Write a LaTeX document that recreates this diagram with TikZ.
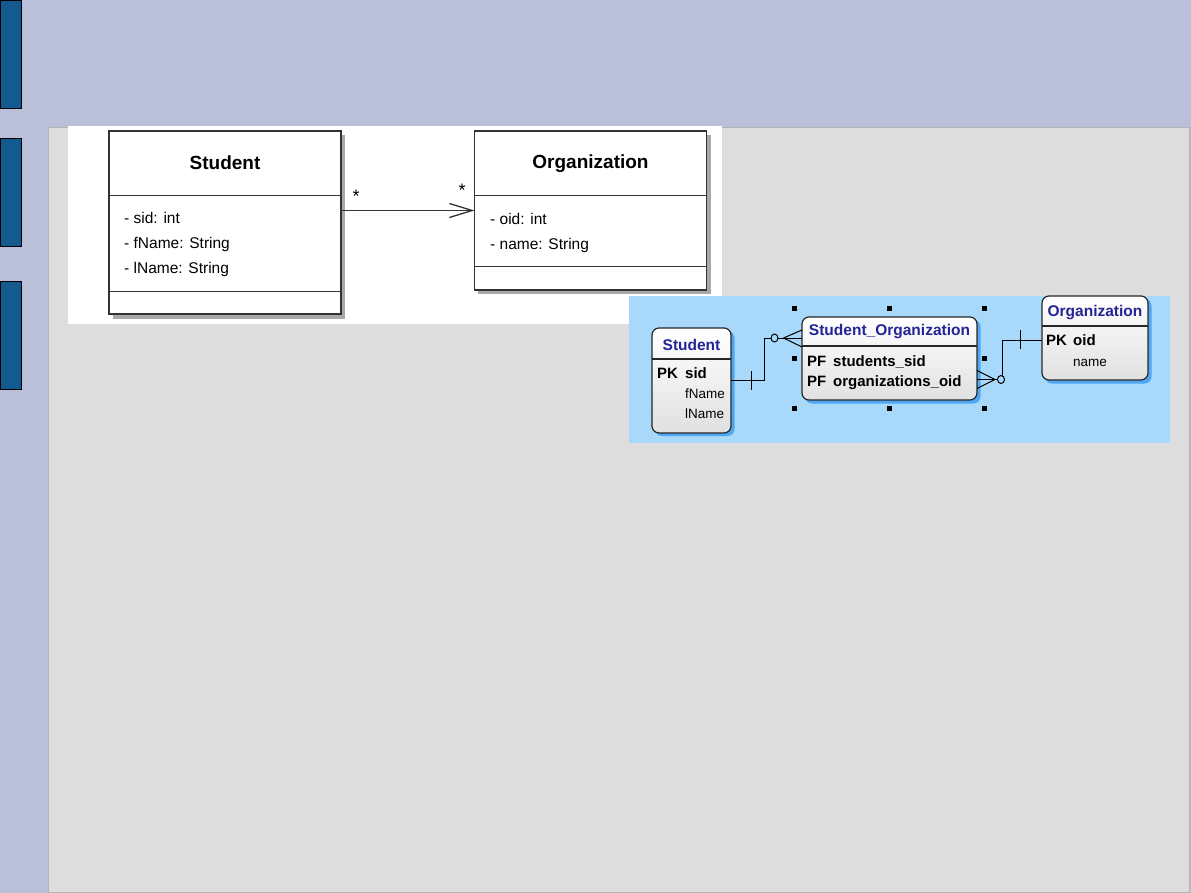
\documentclass[tikz,border=0pt]{standalone}
\usepackage{fontspec}
\setmainfont{Liberation Sans}
\usetikzlibrary{arrows.meta}
\definecolor{bgl}{HTML}{BBC0DA}
\definecolor{panelgray}{HTML}{DDDDDD}
\definecolor{panelborder}{HTML}{B4B4B4}
\definecolor{tabblue}{HTML}{135A8E}
\definecolor{erpanel}{HTML}{A8D9FB}
\definecolor{ershadow}{HTML}{4FA6F2}
\definecolor{ertitle}{RGB}{36,36,150}
\definecolor{umlline}{HTML}{333333}
\definecolor{umlshadow}{HTML}{A8A8A8}
\tikzset{
  tabbox/.style={fill=tabblue, draw=black, line width=0.9pt},
  umlbox/.style={draw=umlline, fill=white, line width=1.3pt, rectangle, inner sep=0pt, outer sep=0pt},
  umltitle/.style={font=\fontsize{19}{21}\selectfont\bfseries, inner sep=0pt},
  umlattr/.style={font=\fontsize{15.5}{17}\selectfont, inner sep=0pt, anchor=west, text height=11.5pt, text depth=3.5pt},
  erbox/.style={draw=black!85, line width=1.2pt, rectangle, rounded corners=7pt, top color=white, bottom color=black!12, inner sep=0pt, outer sep=0pt},
  ershadowbox/.style={fill=ershadow, rounded corners=7pt},
  ertitlestyle/.style={font=\fontsize{15.5}{17}\selectfont\bfseries, text=ertitle, inner sep=0pt},
  erkey/.style={font=\fontsize{15}{16}\selectfont\bfseries, inner sep=0pt, anchor=west, text height=11pt, text depth=3.5pt},
  erplain/.style={font=\fontsize{13.5}{15}\selectfont, inner sep=0pt, anchor=west, text height=10pt, text depth=3pt},
  handle/.style={fill=black, rectangle, minimum size=5pt, inner sep=0pt},
  erline/.style={draw=black, line width=1pt},
  mult/.style={font=\fontsize{18}{20}\selectfont, inner sep=0pt}
}
\begin{document}
\begin{tikzpicture}[x=1pt,y=-1pt]
\useasboundingbox (0,0) rectangle (1191,893);
\fill[bgl] (0,0) rectangle (1191,893);
\filldraw[fill=panelgray, draw=panelborder, line width=1pt] (48.5,127.5) rectangle (1189,892);
% side tabs
\path[tabbox] (0.5,0.5) rectangle (21.5,108);
\path[tabbox] (0.5,138.5) rectangle (21.5,246);
\path[tabbox] (0.5,281.5) rectangle (21.5,389);
% white image area
\fill[white] (68,126) rectangle (722,324);
% UML Student
\fill[umlshadow] (113,135) rectangle (345,319);
\node[umlbox, minimum width=232pt, minimum height=183pt] (stu) at (225,222.5) {};
\draw[umlline, line width=1.3pt] (109,195.5) -- (341,195.5);
\draw[umlline, line width=1.3pt] (109,291.5) -- (341,291.5);
\node[umltitle] (stut) at (225,162.5) {Student};
\node[umlattr] (sa1) at (124,220) {- sid: int};
\node[umlattr] (sa2) at (124,245) {- fName: String};
\node[umlattr] (sa3) at (124,270) {- lName: String};
% UML Organization
\fill[umlshadow] (478,135) rectangle (711,294);
\node[umlbox, minimum width=232pt, minimum height=159pt] (org) at (590.5,210.5) {};
\draw[umlline, line width=1.3pt] (474.5,195.5) -- (706.5,195.5);
\draw[umlline, line width=1.3pt] (474.5,266.5) -- (706.5,266.5);
\node[umltitle] (orgt) at (590.5,163.5) {Organization};
\node[umlattr] (oa1) at (490,221) {- oid: int};
\node[umlattr] (oa2) at (490,246) {- name: String};
% association
\draw[umlline, line width=1.3pt, -{Straight Barb[length=23pt,width=14pt,line width=1.3pt]}] (stu.east |- org.west) -- (org.west);
\node[mult] (m1) at (356,196) {*};
\node[mult] (m2) at (462,190) {*};
% ER panel
\fill[erpanel] (629,296) rectangle (1170,443);
% ER Student
\fill[ershadowbox] (655,331) rectangle (734.5,436);
\node[erbox, minimum width=79pt, minimum height=105pt] (es) at (691.5,380.5) {};
\draw[black!85, line width=1.2pt] (652,359) -- (731,359);
\node[ertitlestyle] (est) at (691.5,345) {Student};
\node[erkey] (esk) at (657,375) {PK};
\node[erkey] (esk2) at (685,375) {sid};
\node[erplain] (esa1) at (685,395) {fName};
\node[erplain] (esa2) at (685,415) {lName};
% ER Student_Organization
\fill[ershadowbox] (805,320) rectangle (980.5,403.5);
\node[erbox, minimum width=175pt, minimum height=83pt] (eso) at (889.5,358.5) {};
\draw[black!85, line width=1.2pt] (802,346) -- (977,346);
\node[ertitlestyle] (esot) at (889.5,332) {Student\_Organization};
\node[erkey] (esok1) at (807,363) {PF};
\node[erkey] (esoa1) at (833,363) {students\_sid};
\node[erkey] (esok2) at (807,383) {PF};
\node[erkey] (esoa2) at (833,383) {organizations\_oid};
% ER Organization
\fill[ershadowbox] (1045,299) rectangle (1151.5,383.5);
\node[erbox, minimum width=106pt, minimum height=84pt] (eo) at (1095,338) {};
\draw[black!85, line width=1.2pt] (1042,326) -- (1148,326);
\node[ertitlestyle] (eot) at (1095,312.5) {Organization};
\node[erkey] (eok) at (1046,342) {PK};
\node[erkey] (eoa1) at (1073,342) {oid};
\node[erplain] (eoa2) at (1073,363) {name};
% selection handles
\node[handle] (h1) at (794,308) {};
\node[handle] (h2) at (889,308) {};
\node[handle] (h3) at (984,308) {};
\node[handle] (h4) at (794,358) {};
\node[handle] (h5) at (984,358) {};
\node[handle] (h6) at (794,408) {};
\node[handle] (h7) at (889,408) {};
\node[handle] (h8) at (984,408) {};
% connector Student -> Student_Organization
\coordinate (j1a) at (764.5,380.5);
\coordinate (j1b) at (764.5,338);
\draw[erline] (es.east) -- (j1a) -- (j1b) -- ([yshift=20.5pt]eso.west);
\draw[erline] (751,371) -- (751,390);
\draw[erline] (783.5,338) -- ([yshift=28.5pt]eso.west);
\draw[erline] (783.5,338) -- ([yshift=11.5pt]eso.west);
\draw[erline, fill=erpanel] (774.5,338) ellipse (3.5pt and 4pt);
% connector Student_Organization -> Organization
\coordinate (j2a) at (1002.5,379.5);
\coordinate (j2b) at (1002.5,340);
\draw[erline] ([yshift=-21pt]eso.east) -- (j2a) -- (j2b) -- ([yshift=-2pt]eo.west);
\draw[erline] (1020,330) -- (1020,349);
\draw[erline] (995,379.5) -- ([yshift=-12pt]eso.east);
\draw[erline] (995,379.5) -- ([yshift=-30pt]eso.east);
\draw[erline, fill=erpanel] (1001,379.5) ellipse (3.5pt and 4pt);
\end{tikzpicture}
\end{document}
